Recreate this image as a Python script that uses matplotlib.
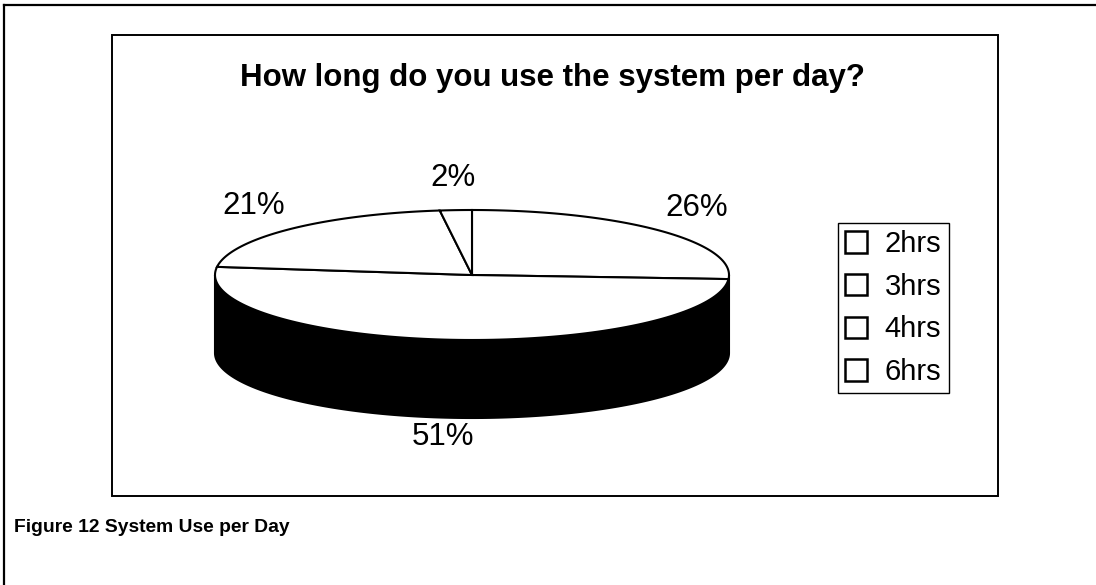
import numpy as np
import matplotlib
matplotlib.use("Agg")
import matplotlib.pyplot as plt
from matplotlib.patches import Polygon, Rectangle, Patch

plt.rcParams['font.family'] = ['Liberation Sans', 'DejaVu Sans']

# data
categories = ["2hrs", "3hrs", "4hrs", "6hrs"]
shares = [26, 51, 21, 2]
pct_labels = ["26%", "51%", "21%", "2%"]

title = "How long do you use the system per day?"
caption = "Figure 12 System Use per Day"

# pie geometry (pixel units, y pointing down)
cx, cy = 472, 275
a, b = 257, 65
depth = 78


def ell(theta_deg, ra=1.0, rb=1.0, dy=0.0):
    t = np.radians(theta_deg)
    return cx + a * ra * np.cos(t), cy - b * rb * np.sin(t) + dy


fig = plt.figure(figsize=(10.96, 5.85), dpi=100)
ax = fig.add_axes([0, 0, 1, 1])
ax.set_xlim(0, 1096)
ax.set_ylim(585, 0)
ax.axis('off')

# outer frame and chart area
ax.plot([4, 4], [585, 5], color='black', lw=1.6)
ax.plot([4, 1096], [5, 5], color='black', lw=1.6)
ax.add_patch(Rectangle((112, 35), 886, 461, fill=False, ec='black', lw=1.4))

# side of the pie (front half)
th = np.linspace(180, 360, 200)
top = [ell(t) for t in th]
bot = [ell(t, dy=depth) for t in th[::-1]]
ax.add_patch(Polygon(top + bot, closed=True, fc='black', ec='black', lw=1.5))

# top slices, clockwise from 12 o'clock
total = float(sum(shares))
start = 90.0
for val, lab in zip(shares, pct_labels):
    sweep = val / total * 360.0
    end = start - sweep
    arc = [ell(t) for t in np.linspace(start, end, 120)]
    ax.add_patch(Polygon([(cx, cy)] + arc, closed=True, fc='white', ec='black', lw=1.5))
    mid = (start + end) / 2.0
    lx, ly = ell(mid, 1.2, 1.5)
    if np.sin(np.radians(mid)) < 0:
        ly += 0.83 * depth
    ax.text(lx, ly, lab, fontsize=22.5, ha='center', va='center')
    start = end

ax.text(552, 78, title, fontsize=22.5, fontweight='bold', ha='center', va='center')
ax.text(14, 527, caption, fontsize=13.9, fontweight='bold', ha='left', va='center')

handles = [Patch(fc='white', ec='black', lw=1.8) for _ in categories]
ax.legend(handles, categories, loc='upper left', bbox_to_anchor=(838, 223),
          bbox_transform=ax.transData, fontsize=21, frameon=True, fancybox=False,
          edgecolor='black', framealpha=1, handlelength=0.75, handleheight=0.75,
          handletextpad=0.6, labelspacing=0.5, borderpad=0.25, borderaxespad=0)

fig.savefig("out.png", dpi=100)
